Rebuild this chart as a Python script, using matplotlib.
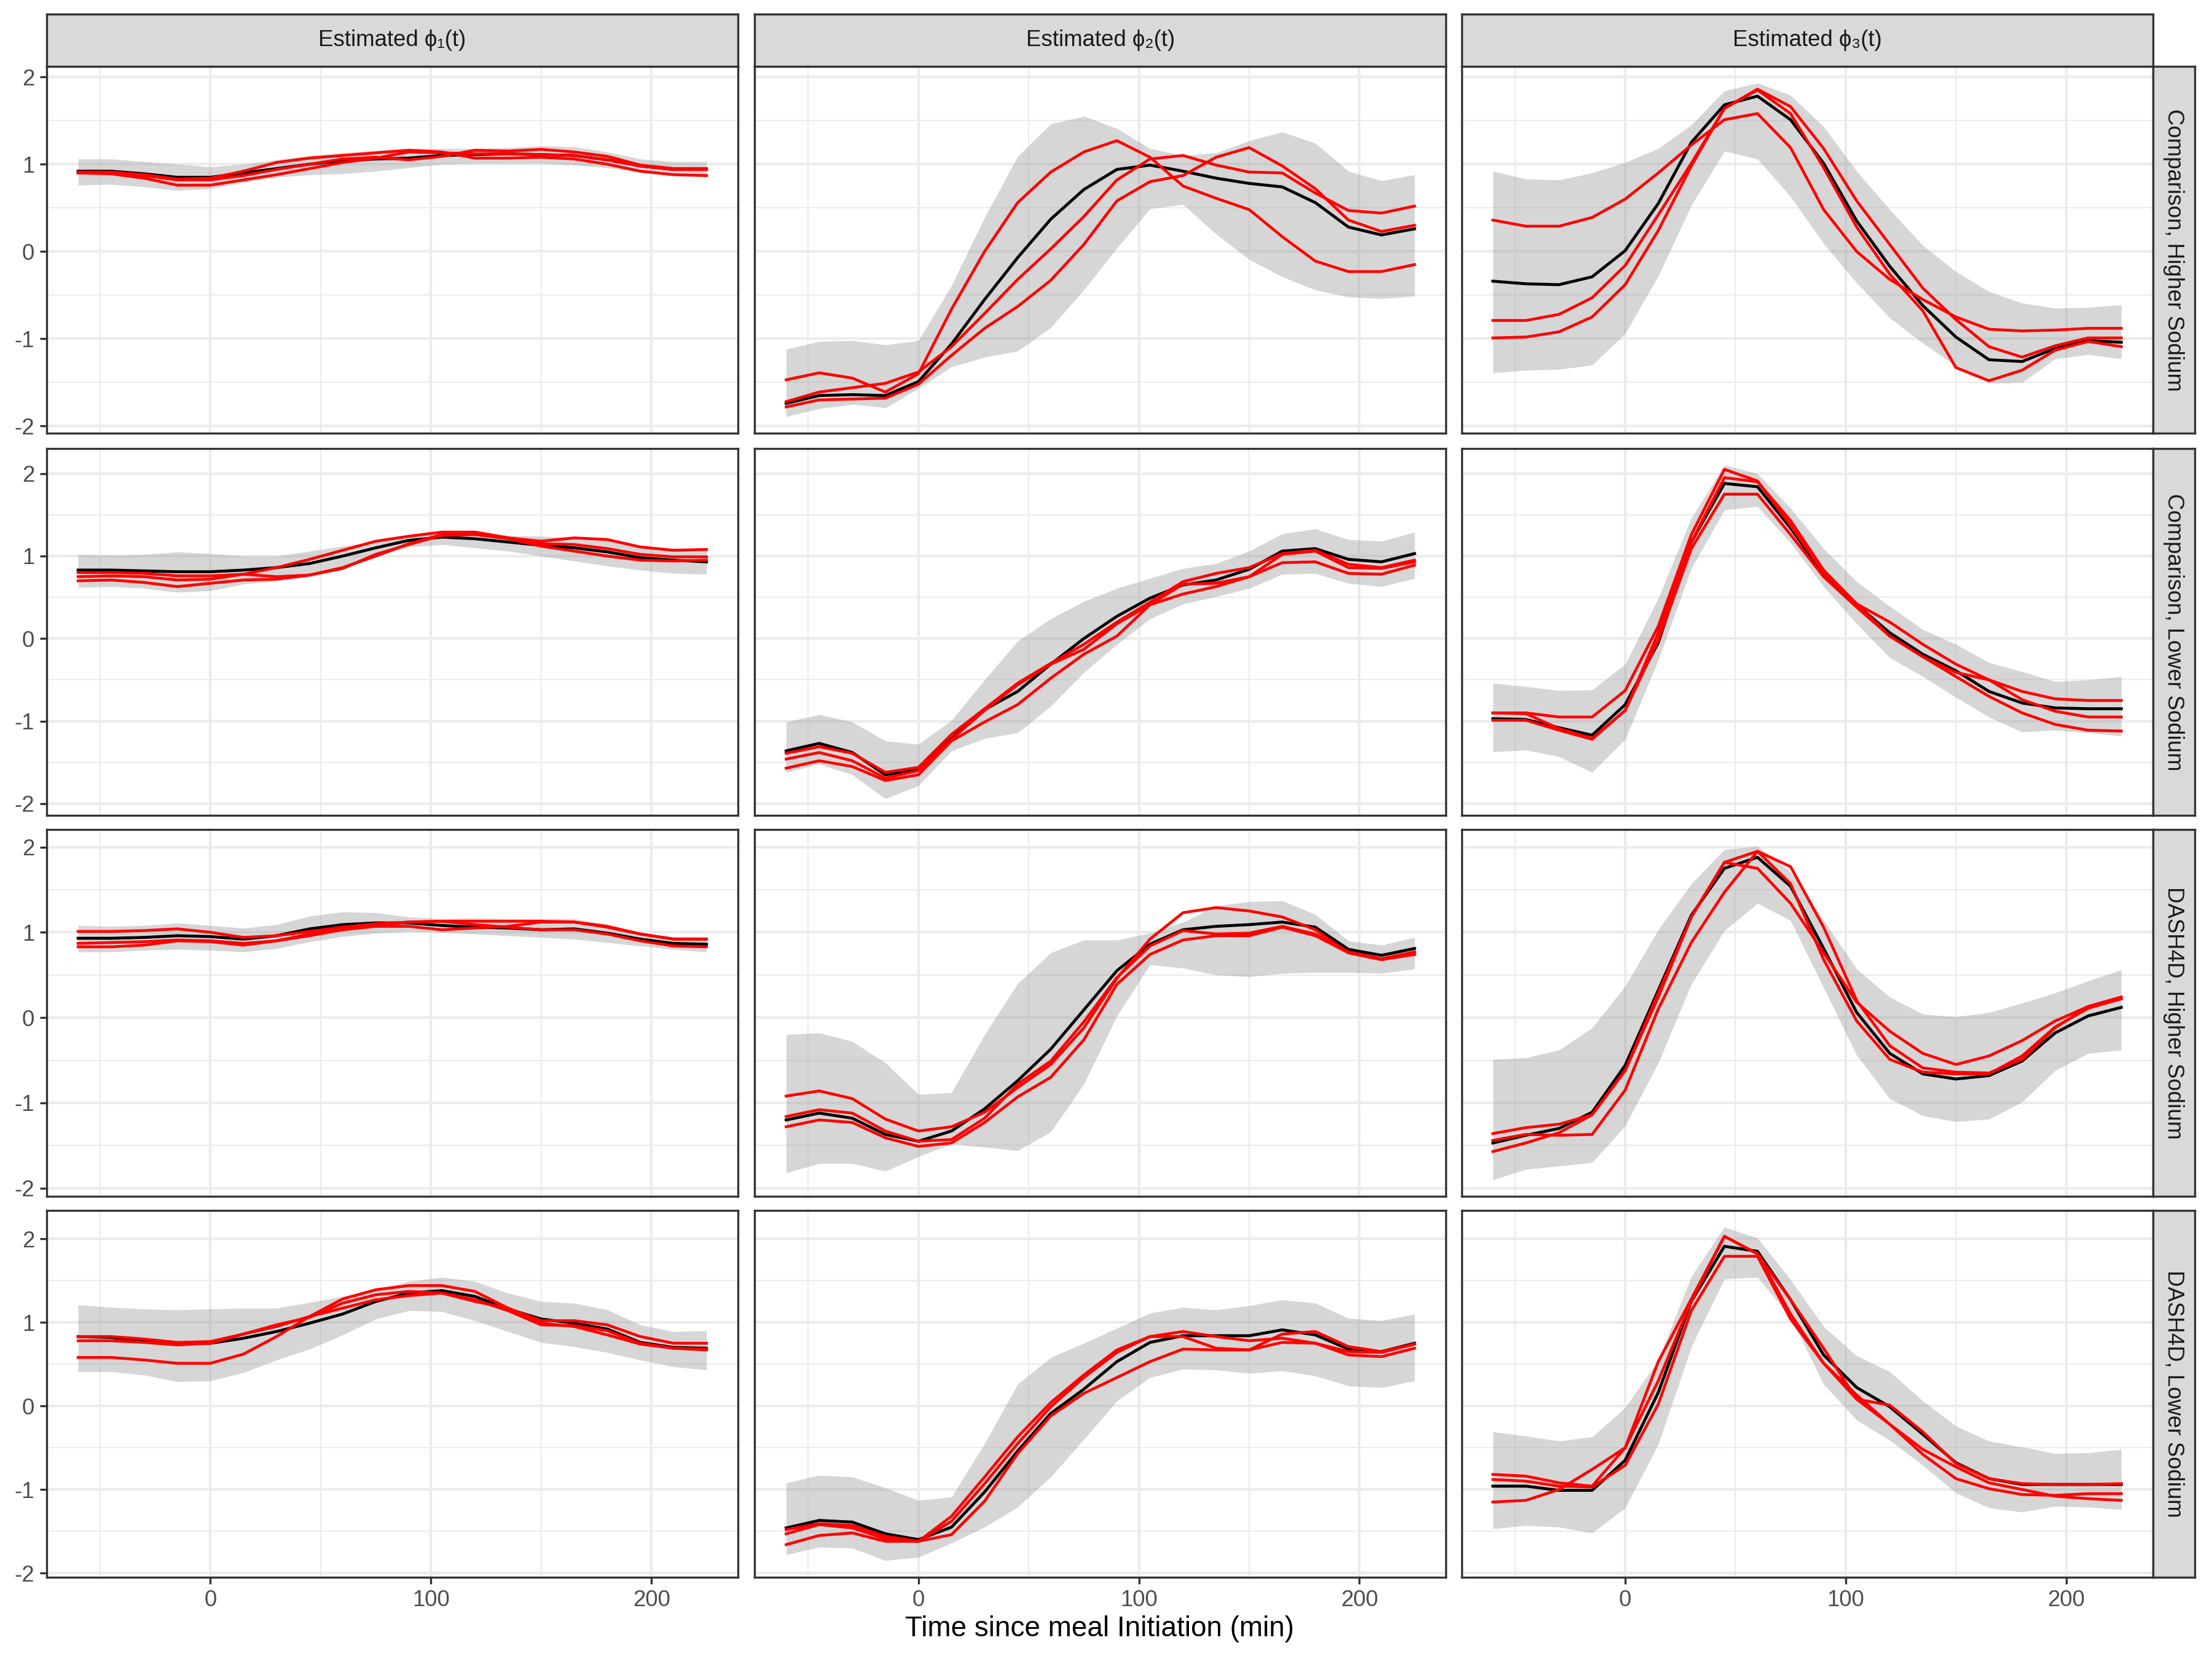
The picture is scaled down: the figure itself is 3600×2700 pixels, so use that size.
import matplotlib
matplotlib.use("Agg")
import matplotlib.pyplot as plt

plt.rcParams['font.family'] = ['Liberation Sans', 'DejaVu Sans']
plt.rcParams['axes.unicode_minus'] = False

minutes = list(range(-60, 226, 15))

col_labels = ['Estimated ϕ₁(t)', 'Estimated ϕ₂(t)', 'Estimated ϕ₃(t)']
row_labels = ['Comparison, Higher Sodium', 'Comparison, Lower Sodium',
              'DASH4D, Higher Sodium', 'DASH4D, Lower Sodium']

# ---- Comparison, Higher Sodium ----
ch_phi1_lo = [0.76, 0.77, 0.74, 0.70, 0.72, 0.79, 0.85, 0.88, 0.89, 0.92, 0.96, 1.00, 1.01, 1.01, 1.01, 0.99, 0.96, 0.91, 0.88, 0.87]
ch_phi1_hi = [1.06, 1.06, 1.03, 1.00, 0.97, 1.00, 1.05, 1.10, 1.13, 1.16, 1.18, 1.18, 1.18, 1.19, 1.21, 1.20, 1.14, 1.06, 1.03, 1.03]
ch_phi1_mean = [0.92, 0.92, 0.89, 0.85, 0.85, 0.90, 0.95, 1.00, 1.04, 1.06, 1.07, 1.10, 1.11, 1.12, 1.11, 1.10, 1.05, 0.98, 0.94, 0.94]
ch_phi1_r1 = [0.91, 0.91, 0.88, 0.83, 0.84, 0.92, 1.02, 1.07, 1.10, 1.13, 1.16, 1.14, 1.07, 1.07, 1.08, 1.06, 1.00, 0.92, 0.88, 0.87]
ch_phi1_r2 = [0.90, 0.90, 0.87, 0.82, 0.82, 0.87, 0.94, 1.00, 1.06, 1.08, 1.05, 1.09, 1.16, 1.15, 1.17, 1.14, 1.09, 0.99, 0.95, 0.95]
ch_phi1_r3 = [0.90, 0.89, 0.84, 0.76, 0.76, 0.82, 0.88, 0.95, 1.02, 1.07, 1.14, 1.13, 1.12, 1.12, 1.11, 1.10, 1.05, 0.98, 0.94, 0.94]

ch_phi2_lo = [-1.89, -1.80, -1.75, -1.79, -1.57, -1.32, -1.21, -1.14, -0.87, -0.44, 0.04, 0.49, 0.54, 0.20, -0.09, -0.29, -0.44, -0.52, -0.54, -0.51]
ch_phi2_hi = [-1.12, -1.03, -1.02, -1.07, -1.02, -0.39, 0.39, 1.09, 1.46, 1.55, 1.41, 1.18, 1.10, 1.13, 1.27, 1.37, 1.24, 0.92, 0.81, 0.88]
ch_phi2_mean = [-1.74, -1.65, -1.64, -1.65, -1.49, -1.06, -0.55, -0.07, 0.37, 0.71, 0.94, 0.99, 0.92, 0.84, 0.78, 0.74, 0.56, 0.28, 0.19, 0.26]
ch_phi2_r1 = [-1.47, -1.39, -1.45, -1.61, -1.40, -0.66, 0.00, 0.56, 0.91, 1.14, 1.27, 1.08, 0.75, 0.61, 0.48, 0.17, -0.11, -0.23, -0.23, -0.15]
ch_phi2_r2 = [-1.72, -1.61, -1.56, -1.51, -1.38, -1.09, -0.71, -0.32, 0.03, 0.40, 0.82, 1.06, 1.10, 0.99, 0.91, 0.90, 0.67, 0.47, 0.44, 0.52]
ch_phi2_r3 = [-1.78, -1.70, -1.69, -1.68, -1.52, -1.19, -0.88, -0.63, -0.33, 0.08, 0.58, 0.80, 0.87, 1.08, 1.19, 0.98, 0.72, 0.36, 0.23, 0.30]

ch_phi3_lo = [-1.39, -1.36, -1.35, -1.30, -0.94, -0.28, 0.53, 1.15, 1.06, 0.63, 0.09, -0.36, -0.76, -1.05, -1.31, -1.51, -1.50, -1.23, -1.18, -1.23]
ch_phi3_hi = [0.92, 0.83, 0.82, 0.90, 1.02, 1.18, 1.45, 1.84, 1.93, 1.79, 1.43, 0.92, 0.48, 0.07, -0.23, -0.46, -0.59, -0.65, -0.64, -0.61]
ch_phi3_mean = [-0.34, -0.37, -0.38, -0.29, 0.01, 0.55, 1.25, 1.68, 1.78, 1.51, 1.01, 0.35, -0.17, -0.62, -0.98, -1.24, -1.26, -1.11, -1.02, -1.04]
ch_phi3_r1 = [0.36, 0.29, 0.29, 0.39, 0.60, 0.90, 1.22, 1.51, 1.58, 1.19, 0.48, 0.00, -0.32, -0.55, -0.75, -0.89, -0.91, -0.90, -0.88, -0.88]
ch_phi3_r2 = [-0.79, -0.79, -0.72, -0.53, -0.16, 0.42, 1.01, 1.64, 1.86, 1.66, 1.18, 0.58, 0.08, -0.42, -0.78, -1.09, -1.21, -1.08, -0.99, -0.99]
ch_phi3_r3 = [-0.99, -0.98, -0.92, -0.75, -0.38, 0.24, 0.98, 1.64, 1.85, 1.58, 0.96, 0.28, -0.26, -0.68, -1.33, -1.48, -1.36, -1.13, -1.03, -1.09]

# ---- Comparison, Lower Sodium ----
cl_phi1_lo = [0.62, 0.63, 0.61, 0.56, 0.58, 0.66, 0.70, 0.75, 0.86, 0.99, 1.11, 1.14, 1.10, 1.06, 1.00, 0.94, 0.88, 0.83, 0.79, 0.78]
cl_phi1_hi = [1.02, 1.01, 1.02, 1.05, 1.03, 1.00, 1.00, 1.06, 1.12, 1.18, 1.24, 1.30, 1.31, 1.25, 1.24, 1.22, 1.20, 1.12, 1.08, 1.08]
cl_phi1_mean = [0.83, 0.83, 0.82, 0.81, 0.81, 0.83, 0.86, 0.91, 1.00, 1.10, 1.19, 1.23, 1.21, 1.17, 1.13, 1.10, 1.05, 0.98, 0.95, 0.93]
cl_phi1_r1 = [0.80, 0.80, 0.79, 0.76, 0.76, 0.78, 0.75, 0.77, 0.86, 1.00, 1.15, 1.26, 1.28, 1.22, 1.18, 1.22, 1.20, 1.11, 1.07, 1.08]
cl_phi1_r2 = [0.75, 0.76, 0.75, 0.71, 0.72, 0.78, 0.86, 0.96, 1.07, 1.18, 1.24, 1.29, 1.29, 1.22, 1.15, 1.14, 1.09, 1.02, 0.99, 0.99]
cl_phi1_r3 = [0.70, 0.71, 0.68, 0.63, 0.67, 0.71, 0.72, 0.77, 0.85, 1.02, 1.14, 1.25, 1.26, 1.21, 1.12, 1.06, 1.00, 0.95, 0.94, 0.95]

cl_phi2_lo = [-1.62, -1.52, -1.65, -1.94, -1.78, -1.36, -1.21, -1.14, -0.82, -0.41, -0.07, 0.24, 0.42, 0.51, 0.61, 0.78, 0.79, 0.67, 0.63, 0.73]
cl_phi2_hi = [-1.01, -0.92, -1.01, -1.24, -1.28, -0.99, -0.50, -0.03, 0.24, 0.45, 0.61, 0.73, 0.85, 0.91, 1.06, 1.27, 1.33, 1.20, 1.18, 1.29]
cl_phi2_mean = [-1.36, -1.27, -1.38, -1.65, -1.59, -1.21, -0.86, -0.64, -0.31, 0.00, 0.27, 0.49, 0.65, 0.71, 0.84, 1.06, 1.09, 0.96, 0.93, 1.03]
cl_phi2_r1 = [-1.39, -1.31, -1.39, -1.62, -1.56, -1.16, -0.85, -0.54, -0.30, -0.07, 0.20, 0.44, 0.69, 0.79, 0.86, 1.03, 1.07, 0.90, 0.86, 0.95]
cl_phi2_r2 = [-1.46, -1.38, -1.48, -1.69, -1.60, -1.22, -0.87, -0.56, -0.31, -0.13, 0.18, 0.41, 0.66, 0.67, 0.75, 1.02, 1.06, 0.86, 0.85, 0.93]
cl_phi2_r3 = [-1.57, -1.48, -1.55, -1.72, -1.65, -1.24, -1.01, -0.80, -0.48, -0.19, 0.03, 0.41, 0.54, 0.63, 0.75, 0.92, 0.93, 0.79, 0.78, 0.89]

cl_phi3_lo = [-1.37, -1.35, -1.43, -1.62, -1.22, -0.26, 0.85, 1.56, 1.60, 1.16, 0.63, 0.18, -0.23, -0.46, -0.71, -0.95, -1.13, -1.11, -1.14, -1.18]
cl_phi3_hi = [-0.54, -0.58, -0.63, -0.62, -0.31, 0.49, 1.46, 2.10, 2.00, 1.58, 1.09, 0.69, 0.39, 0.11, -0.07, -0.29, -0.40, -0.52, -0.50, -0.46]
cl_phi3_mean = [-0.97, -0.98, -1.08, -1.17, -0.80, -0.05, 1.17, 1.88, 1.84, 1.34, 0.78, 0.41, 0.07, -0.19, -0.39, -0.64, -0.78, -0.84, -0.85, -0.85]
cl_phi3_r1 = [-0.90, -0.90, -0.95, -0.95, -0.63, 0.15, 1.26, 2.05, 1.91, 1.37, 0.80, 0.42, 0.20, -0.07, -0.31, -0.50, -0.64, -0.73, -0.75, -0.75]
cl_phi3_r2 = [-0.90, -0.91, -1.09, -1.21, -0.87, 0.07, 1.17, 1.95, 1.90, 1.43, 0.83, 0.42, 0.03, -0.22, -0.41, -0.50, -0.74, -0.88, -0.95, -0.95]
cl_phi3_r3 = [-0.99, -0.99, -1.11, -1.22, -0.87, -0.02, 1.09, 1.75, 1.75, 1.26, 0.75, 0.38, 0.03, -0.22, -0.46, -0.70, -0.90, -1.04, -1.11, -1.12]

# ---- DASH4D, Higher Sodium ----
dh_phi1_lo = [0.77, 0.77, 0.79, 0.80, 0.79, 0.77, 0.81, 0.89, 0.95, 0.99, 1.01, 1.00, 0.98, 0.96, 0.94, 0.92, 0.88, 0.84, 0.80, 0.77]
dh_phi1_hi = [1.08, 1.07, 1.08, 1.11, 1.08, 1.05, 1.09, 1.19, 1.24, 1.23, 1.18, 1.16, 1.17, 1.16, 1.16, 1.16, 1.09, 0.99, 0.95, 0.95]
dh_phi1_mean = [0.93, 0.93, 0.94, 0.96, 0.95, 0.92, 0.96, 1.04, 1.09, 1.11, 1.11, 1.08, 1.06, 1.05, 1.03, 1.04, 0.99, 0.92, 0.87, 0.86]
dh_phi1_r1 = [1.01, 1.01, 1.02, 1.04, 1.00, 0.94, 0.96, 1.01, 1.06, 1.10, 1.12, 1.13, 1.13, 1.13, 1.13, 1.12, 1.07, 0.98, 0.92, 0.92]
dh_phi1_r2 = [0.87, 0.88, 0.89, 0.91, 0.90, 0.87, 0.90, 0.98, 1.03, 1.07, 1.07, 1.03, 1.05, 1.07, 1.12, 1.12, 1.06, 0.98, 0.92, 0.92]
dh_phi1_r3 = [0.83, 0.83, 0.85, 0.90, 0.89, 0.85, 0.90, 0.96, 1.03, 1.08, 1.12, 1.13, 1.09, 1.06, 1.03, 1.03, 0.98, 0.90, 0.84, 0.83]

dh_phi2_lo = [-1.82, -1.71, -1.71, -1.80, -1.63, -1.48, -1.52, -1.56, -1.34, -0.78, 0.02, 0.62, 0.58, 0.50, 0.48, 0.52, 0.53, 0.53, 0.52, 0.57]
dh_phi2_hi = [-0.20, -0.18, -0.28, -0.53, -0.90, -0.88, -0.20, 0.40, 0.76, 0.91, 0.91, 0.99, 1.12, 1.31, 1.36, 1.37, 1.21, 0.90, 0.85, 0.94]
dh_phi2_mean = [-1.20, -1.12, -1.18, -1.37, -1.45, -1.33, -1.07, -0.74, -0.37, 0.09, 0.55, 0.86, 1.03, 1.07, 1.09, 1.12, 1.06, 0.80, 0.73, 0.81]
dh_phi2_r1 = [-0.92, -0.86, -0.95, -1.19, -1.33, -1.28, -1.11, -0.82, -0.55, -0.12, 0.46, 0.92, 1.23, 1.29, 1.25, 1.18, 1.03, 0.76, 0.68, 0.76]
dh_phi2_r2 = [-1.16, -1.08, -1.12, -1.33, -1.45, -1.43, -1.18, -0.78, -0.51, -0.05, 0.47, 0.84, 1.02, 0.98, 0.99, 1.07, 0.98, 0.77, 0.69, 0.77]
dh_phi2_r3 = [-1.28, -1.20, -1.23, -1.41, -1.51, -1.47, -1.23, -0.93, -0.70, -0.26, 0.39, 0.74, 0.91, 0.96, 0.96, 1.06, 0.96, 0.76, 0.68, 0.74]

dh_phi3_lo = [-1.90, -1.78, -1.74, -1.70, -1.27, -0.53, 0.39, 1.02, 1.34, 1.14, 0.35, -0.44, -0.95, -1.15, -1.22, -1.19, -0.99, -0.62, -0.42, -0.38]
dh_phi3_hi = [-0.49, -0.47, -0.38, -0.12, 0.37, 1.03, 1.57, 1.97, 2.01, 1.71, 1.14, 0.57, 0.24, 0.04, 0.01, 0.06, 0.17, 0.29, 0.43, 0.56]
dh_phi3_mean = [-1.47, -1.38, -1.30, -1.11, -0.56, 0.32, 1.20, 1.75, 1.88, 1.54, 0.81, 0.06, -0.42, -0.66, -0.72, -0.68, -0.51, -0.18, 0.02, 0.12]
dh_phi3_r1 = [-1.36, -1.29, -1.25, -1.14, -0.62, 0.24, 1.18, 1.82, 1.75, 1.34, 0.76, 0.18, -0.16, -0.42, -0.55, -0.45, -0.27, -0.04, 0.13, 0.24]
dh_phi3_r2 = [-1.44, -1.37, -1.38, -1.37, -0.85, 0.10, 0.88, 1.47, 1.95, 1.57, 0.68, -0.04, -0.49, -0.64, -0.66, -0.66, -0.45, -0.11, 0.11, 0.22]
dh_phi3_r3 = [-1.57, -1.47, -1.35, -1.14, -0.62, 0.29, 1.18, 1.82, 1.95, 1.77, 1.06, 0.20, -0.33, -0.59, -0.64, -0.65, -0.49, -0.12, 0.13, 0.24]

# ---- DASH4D, Lower Sodium ----
dl_phi1_lo = [0.41, 0.41, 0.37, 0.29, 0.30, 0.40, 0.55, 0.68, 0.85, 1.04, 1.14, 1.13, 1.02, 0.89, 0.76, 0.71, 0.64, 0.55, 0.47, 0.43]
dl_phi1_hi = [1.21, 1.18, 1.16, 1.15, 1.16, 1.17, 1.17, 1.24, 1.31, 1.39, 1.49, 1.54, 1.49, 1.35, 1.25, 1.23, 1.15, 0.97, 0.89, 0.90]
dl_phi1_mean = [0.83, 0.82, 0.78, 0.75, 0.75, 0.81, 0.89, 0.99, 1.10, 1.25, 1.35, 1.38, 1.31, 1.16, 1.04, 0.99, 0.92, 0.76, 0.70, 0.69]
dl_phi1_r1 = [0.83, 0.83, 0.80, 0.76, 0.77, 0.86, 0.95, 1.07, 1.28, 1.39, 1.44, 1.44, 1.37, 1.17, 1.02, 1.02, 0.97, 0.83, 0.75, 0.75]
dl_phi1_r2 = [0.78, 0.78, 0.76, 0.73, 0.75, 0.86, 0.97, 1.06, 1.23, 1.33, 1.37, 1.35, 1.27, 1.14, 0.97, 0.96, 0.90, 0.75, 0.69, 0.67]
dl_phi1_r3 = [0.58, 0.58, 0.55, 0.51, 0.51, 0.62, 0.83, 1.07, 1.17, 1.27, 1.32, 1.35, 1.25, 1.17, 0.99, 0.95, 0.85, 0.74, 0.69, 0.68]

dl_phi2_lo = [-1.78, -1.69, -1.70, -1.85, -1.81, -1.64, -1.45, -1.21, -0.85, -0.40, 0.06, 0.34, 0.44, 0.43, 0.39, 0.42, 0.36, 0.24, 0.22, 0.30]
dl_phi2_hi = [-0.92, -0.83, -0.85, -0.98, -1.13, -1.09, -0.45, 0.26, 0.58, 0.75, 0.93, 1.11, 1.18, 1.15, 1.20, 1.27, 1.23, 1.05, 1.02, 1.10]
dl_phi2_mean = [-1.46, -1.37, -1.39, -1.53, -1.60, -1.45, -1.03, -0.54, -0.09, 0.20, 0.53, 0.76, 0.84, 0.84, 0.84, 0.91, 0.85, 0.68, 0.65, 0.75]
dl_phi2_r1 = [-1.48, -1.41, -1.43, -1.56, -1.62, -1.32, -0.85, -0.37, 0.04, 0.37, 0.67, 0.83, 0.89, 0.83, 0.78, 0.81, 0.75, 0.65, 0.64, 0.74]
dl_phi2_r2 = [-1.53, -1.42, -1.46, -1.59, -1.62, -1.38, -0.93, -0.45, -0.01, 0.34, 0.64, 0.83, 0.83, 0.69, 0.67, 0.86, 0.89, 0.71, 0.65, 0.74]
dl_phi2_r3 = [-1.66, -1.55, -1.52, -1.62, -1.62, -1.54, -1.14, -0.57, -0.12, 0.15, 0.34, 0.53, 0.68, 0.67, 0.67, 0.76, 0.75, 0.61, 0.59, 0.69]

dl_phi3_lo = [-1.47, -1.43, -1.45, -1.52, -1.22, -0.46, 0.71, 1.52, 1.54, 1.06, 0.26, -0.17, -0.41, -0.71, -1.04, -1.22, -1.27, -1.20, -1.21, -1.24]
dl_phi3_hi = [-0.31, -0.36, -0.42, -0.37, -0.02, 0.55, 1.55, 2.14, 2.01, 1.51, 0.95, 0.60, 0.41, 0.06, -0.24, -0.42, -0.49, -0.57, -0.56, -0.52]
dl_phi3_mean = [-0.96, -0.96, -1.01, -1.01, -0.65, 0.16, 1.25, 1.91, 1.85, 1.27, 0.61, 0.22, -0.01, -0.34, -0.68, -0.87, -0.94, -0.94, -0.94, -0.94]
dl_phi3_r1 = [-0.82, -0.84, -0.92, -0.96, -0.50, 0.53, 1.28, 2.03, 1.82, 1.27, 0.69, 0.08, 0.01, -0.31, -0.69, -0.87, -0.93, -0.94, -0.94, -0.93]
dl_phi3_r2 = [-0.88, -0.90, -0.96, -0.97, -0.71, 0.02, 1.14, 1.79, 1.79, 1.04, 0.51, 0.08, -0.22, -0.52, -0.73, -0.92, -1.00, -1.08, -1.11, -1.13]
dl_phi3_r3 = [-1.15, -1.13, -1.00, -0.76, -0.50, 0.30, 1.25, 2.03, 1.82, 1.10, 0.51, 0.13, -0.22, -0.58, -0.87, -0.99, -1.06, -1.07, -1.05, -1.05]

panels = [
    [(ch_phi1_lo, ch_phi1_hi, ch_phi1_mean, [ch_phi1_r1, ch_phi1_r2, ch_phi1_r3]),
     (ch_phi2_lo, ch_phi2_hi, ch_phi2_mean, [ch_phi2_r1, ch_phi2_r2, ch_phi2_r3]),
     (ch_phi3_lo, ch_phi3_hi, ch_phi3_mean, [ch_phi3_r1, ch_phi3_r2, ch_phi3_r3])],
    [(cl_phi1_lo, cl_phi1_hi, cl_phi1_mean, [cl_phi1_r1, cl_phi1_r2, cl_phi1_r3]),
     (cl_phi2_lo, cl_phi2_hi, cl_phi2_mean, [cl_phi2_r1, cl_phi2_r2, cl_phi2_r3]),
     (cl_phi3_lo, cl_phi3_hi, cl_phi3_mean, [cl_phi3_r1, cl_phi3_r2, cl_phi3_r3])],
    [(dh_phi1_lo, dh_phi1_hi, dh_phi1_mean, [dh_phi1_r1, dh_phi1_r2, dh_phi1_r3]),
     (dh_phi2_lo, dh_phi2_hi, dh_phi2_mean, [dh_phi2_r1, dh_phi2_r2, dh_phi2_r3]),
     (dh_phi3_lo, dh_phi3_hi, dh_phi3_mean, [dh_phi3_r1, dh_phi3_r2, dh_phi3_r3])],
    [(dl_phi1_lo, dl_phi1_hi, dl_phi1_mean, [dl_phi1_r1, dl_phi1_r2, dl_phi1_r3]),
     (dl_phi2_lo, dl_phi2_hi, dl_phi2_mean, [dl_phi2_r1, dl_phi2_r2, dl_phi2_r3]),
     (dl_phi3_lo, dl_phi3_hi, dl_phi3_mean, [dl_phi3_r1, dl_phi3_r2, dl_phi3_r3])],
]

# layout (figure fractions)
col_x = [0.0211, 0.3412, 0.6607]
panel_w = 0.3125
row_y = [0.7389, 0.5085, 0.2789, 0.0493]
panel_h = 0.2211
strip_h = 0.0315
strip_w = 0.0191

border = '#333333'
grid_col = '#EBEBEB'

fig = plt.figure(figsize=(12, 9), dpi=300)

xspan = minutes[-1] - minutes[0]
xlim = (minutes[0] - 0.05 * xspan, minutes[-1] + 0.05 * xspan)

for r in range(4):
    vals = []
    for lo, hi, mean, reds in panels[r]:
        vals += lo + hi + mean + sum(reds, [])
    ymin, ymax = min(vals), max(vals)
    pad = 0.05 * (ymax - ymin)
    ylim = (ymin - pad, ymax + pad)

    for c in range(3):
        lo, hi, mean, reds = panels[r][c]
        ax = fig.add_axes([col_x[c], row_y[r], panel_w, panel_h])
        ax.set_axisbelow(True)
        ax.fill_between(minutes, lo, hi, color='#999999', alpha=0.4, linewidth=0, zorder=1)
        ax.plot(minutes, mean, color='black', lw=1.15, zorder=2)
        for red in reds:
            ax.plot(minutes, red, color='#FF0000', lw=1.1, zorder=3)
        ax.set_xlim(xlim)
        ax.set_ylim(ylim)
        ax.set_xticks([0, 100, 200])
        ax.set_xticks([-50, 50, 150], minor=True)
        ax.set_yticks([-2, -1, 0, 1, 2])
        ax.set_yticks([-1.5, -0.5, 0.5, 1.5], minor=True)
        ax.grid(which='major', color=grid_col, lw=1.0)
        ax.grid(which='minor', color=grid_col, lw=0.5)
        ax.tick_params(which='minor', length=0)
        ax.tick_params(which='major', length=2.75, width=0.8, color=border,
                       labelsize=8.8, labelcolor='#4D4D4D', pad=2)
        for s in ax.spines.values():
            s.set_color(border)
            s.set_linewidth(0.8)
            s.set_zorder(5)
        if c > 0:
            ax.tick_params(axis='y', left=False, labelleft=False)
        if r < 3:
            ax.tick_params(axis='x', bottom=False, labelbottom=False)

        if r == 0:
            sax = fig.add_axes([col_x[c], row_y[0] + panel_h, panel_w, strip_h])
            sax.set_facecolor('#D9D9D9')
            sax.set_xticks([])
            sax.set_yticks([])
            for s in sax.spines.values():
                s.set_color(border)
                s.set_linewidth(0.8)
            sax.text(0.5, 0.5, col_labels[c], ha='center', va='center',
                     fontsize=8.8, color='#1A1A1A', transform=sax.transAxes)

    rax = fig.add_axes([col_x[2] + panel_w, row_y[r], strip_w, panel_h])
    rax.set_facecolor('#D9D9D9')
    rax.set_xticks([])
    rax.set_yticks([])
    for s in rax.spines.values():
        s.set_color(border)
        s.set_linewidth(0.8)
    rax.text(0.5, 0.5, row_labels[r], ha='center', va='center', rotation=-90,
             fontsize=8.8, color='#1A1A1A', transform=rax.transAxes)

fig.text(col_x[0] + (col_x[2] + panel_w - col_x[0]) / 2, 0.018,
         'Time since meal Initiation (min)', ha='center', va='center',
         fontsize=11, color='black')

fig.savefig('out.png', dpi=300)
